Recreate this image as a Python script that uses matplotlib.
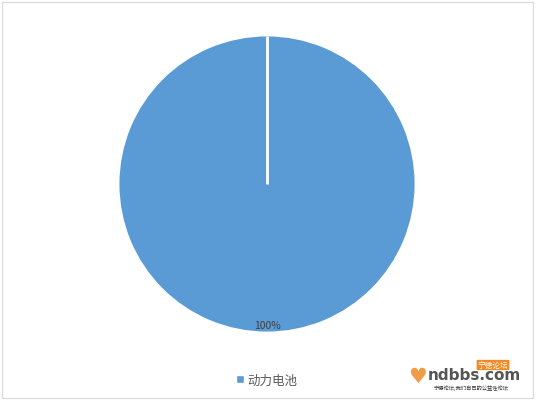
import matplotlib
matplotlib.use("Agg")
import matplotlib.pyplot as plt
from matplotlib.patches import Rectangle

plt.rcParams['font.family'] = ['Noto Sans CJK SC', 'DejaVu Sans']

categories = ['动力电池']
values = [100]
colors = ['#5B9BD5']

fig = plt.figure(figsize=(5.36, 4.02), dpi=100)
fig.patch.set_facecolor('white')

# outer chart border
fig.add_artist(Rectangle((2/536, 3/402), 531/536, 396/402, transform=fig.transFigure,
                         fill=False, edgecolor='#D9D9D9', linewidth=0.8))

ax = fig.add_axes([(267-149)/536, (217-149)/402, 298/536, 298/402])
wedges, texts, autotexts = ax.pie(values, colors=colors, startangle=90, counterclock=False,
                                  autopct='%1.0f%%', pctdistance=0.95, radius=1,
                                  wedgeprops=dict(edgecolor='white', linewidth=1.0),
                                  textprops=dict(color='#404040', fontsize=7.5))
# slice boundary (start/end of the single full slice)
ax.plot([0, 0], [0, 1], color='white', linewidth=2.0, solid_capstyle='butt')
ax.set_xlim(-1.005, 1.005)
ax.set_ylim(-1.005, 1.005)
ax.set_aspect('equal')
ax.axis('off')

leg = fig.legend(wedges, categories, loc='center', bbox_to_anchor=(267/536, 1-381/402),
                 frameon=False, handlelength=0.6, handleheight=0.6, handletextpad=0.3,
                 prop={'size': 9, 'family': ['Noto Sans CJK SC', 'DejaVu Sans']})
for t in leg.get_texts():
    t.set_color('#595959')

# watermark
fig.text(418/536, 1-377/402, '♥', color='#F08A24', fontsize=15, ha='center', va='center',
         family=['DejaVu Sans'], alpha=0.85)
fig.text(521/536, 1-376/402, 'ndbbs.com', color='#555555', fontsize=11, ha='right', va='center',
         family=['DejaVu Sans'], fontweight='bold')
fig.text(493/536, 1-366/402, '宁德论坛', color='white', fontsize=5.5, ha='center', va='center',
         bbox=dict(boxstyle='round,pad=0.15', facecolor='#F08A24', edgecolor='none'))
fig.text(471/536, 1-388/402, '宁德论坛,我们自己的公益性论坛', color='#333333', fontsize=3.8,
         ha='center', va='center')

fig.savefig('out.png', dpi=100, facecolor='white')
